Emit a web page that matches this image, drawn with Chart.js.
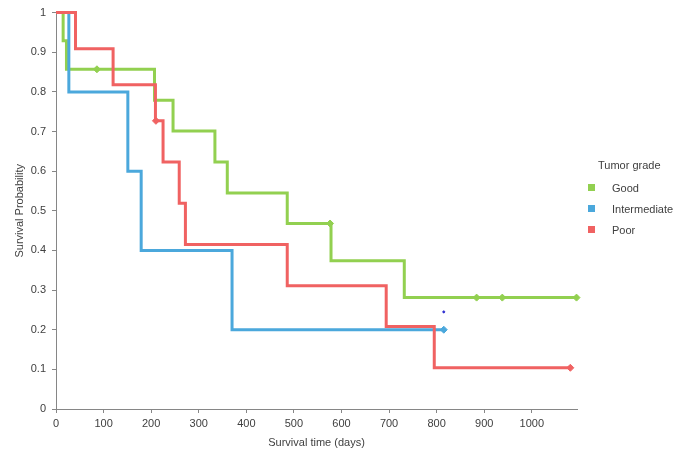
<!DOCTYPE html>
<html>
<head>
<meta charset="utf-8">
<script src="https://cdn.jsdelivr.net/npm/chart.js@4/dist/chart.umd.min.js"></script>
<style>
  body { margin: 0; background: #fff; }
  #wrap { position: relative; width: 682px; height: 453px; }
  #legend { position: absolute; left: 588px; top: 159px; font: 11px "Liberation Sans", Arial, sans-serif; color: #404040; }
  #legend .title { margin-left: 10px; height: 18px; }
  #legend .item { height: 21px; display: flex; align-items: center; margin-top: 0; }
  #legend .sw { width: 7px; height: 7px; margin-right: 17px; }
</style>
</head>
<body>
<div id="wrap">
  <canvas id="km" width="682" height="453"></canvas>
  <div id="legend"></div>
</div>
<script>
// Kaplan-Meier curves (time in days, survival probability after each step)
const goodTimes = [0, 15, 22, 207, 246, 334, 360, 486, 578, 732, 1094];
const goodSurv  = [1, 0.929, 0.857, 0.779, 0.701, 0.623, 0.545, 0.468, 0.374, 0.281, 0.281];
const interTimes = [0, 27, 151, 179, 370, 815];
const interSurv  = [1, 0.8, 0.6, 0.4, 0.2, 0.2];
const poorTimes = [0, 41, 120, 209, 225, 259, 272, 486, 694, 795, 1081];
const poorSurv  = [1, 0.909, 0.818, 0.727, 0.623, 0.519, 0.415, 0.311, 0.208, 0.104, 0.104];

// censored observations
const goodCensTimes = [86, 576, 884, 938, 1094];
const goodCensSurv  = [0.857, 0.468, 0.281, 0.281, 0.281];
const interCensTimes = [815];
const interCensSurv  = [0.2];
const poorCensTimes = [210, 1081];
const poorCensSurv  = [0.727, 0.104];

// small stray point in the picture
const strayTimes = [815];
const straySurv = [0.245];

const groups = ["Good", "Intermediate", "Poor"];
const colors = ["#92D050", "#4BA8DC", "#F06262"];

const xTicks = [0, 100, 200, 300, 400, 500, 600, 700, 800, 900, 1000];
const yTicks = [0, 0.1, 0.2, 0.3, 0.4, 0.5, 0.6, 0.7, 0.8, 0.9, 1];

function pts(xs, ys) {
  return xs.map((x, i) => ({ x: x, y: ys[i] }));
}

function stepSet(label, xs, ys, color, order) {
  return {
    label, data: pts(xs, ys), stepped: true, borderColor: color,
    borderWidth: 3, pointRadius: 0, fill: false, order, clip: false
  };
}

function censSet(label, xs, ys, color) {
  return {
    label, data: pts(xs, ys), showLine: false, pointStyle: "rectRot",
    pointRadius: 3.5, backgroundColor: color, borderColor: color,
    borderWidth: 1, order: 0, clip: false
  };
}

const font = { family: '"Liberation Sans", Arial, sans-serif', size: 11 };
const textColor = "#404040";
const axisColor = "#868686";

new Chart(document.getElementById("km"), {
  type: "line",
  data: {
    datasets: [
      stepSet(groups[2], poorTimes, poorSurv, colors[2], 1),
      stepSet(groups[1], interTimes, interSurv, colors[1], 2),
      stepSet(groups[0], goodTimes, goodSurv, colors[0], 3),
      censSet("goodCens", goodCensTimes, goodCensSurv, colors[0]),
      censSet("interCens", interCensTimes, interCensSurv, colors[1]),
      censSet("poorCens", poorCensTimes, poorCensSurv, colors[2]),
      {
        label: "stray", data: pts(strayTimes, straySurv), showLine: false,
        pointRadius: 1, backgroundColor: "#2a2ad0", borderColor: "#2a2ad0", order: 0
      }
    ]
  },
  options: {
    responsive: false,
    animation: false,
    layout: { padding: { top: 10, right: 105, left: 0, bottom: 0 } },
    plugins: { legend: { display: false }, tooltip: { enabled: false } },
    scales: {
      x: {
        type: "linear", min: 0, max: 1095,
        afterBuildTicks: s => { s.ticks = xTicks.map(v => ({ value: v })); },
        afterFit: s => { s.height = 44; },
        grid: { drawOnChartArea: false, drawTicks: true, tickLength: 4, color: axisColor },
        border: { display: true, color: axisColor },
        ticks: { font, color: textColor, padding: 4, maxRotation: 0, callback: v => String(v) },
        title: { display: true, text: "Survival time (days)", font, color: textColor, padding: { top: 4, bottom: 3 } }
      },
      y: {
        min: 0, max: 1,
        afterBuildTicks: s => { s.ticks = yTicks.map(v => ({ value: v })); },
        ticks: { font, color: textColor, padding: 6, callback: v => String(Math.round(v * 10) / 10) },
        afterFit: s => { s.width = 56; },
        grid: { drawOnChartArea: false, drawTicks: true, tickLength: 4, color: axisColor },
        border: { display: true, color: axisColor },
        title: { display: true, text: "Survival Probability", font, color: textColor, padding: { top: 13, bottom: 0 } }
      }
    }
  }
});

// legend on the right, like the original
const legend = document.getElementById("legend");
let html = '<div class="title">Tumor grade</div>';
groups.forEach((g, i) => {
  html += '<div class="item"><span class="sw" style="background:' + colors[i] + '"></span>' + g + '</div>';
});
legend.innerHTML = html;
</script>
</body>
</html>
